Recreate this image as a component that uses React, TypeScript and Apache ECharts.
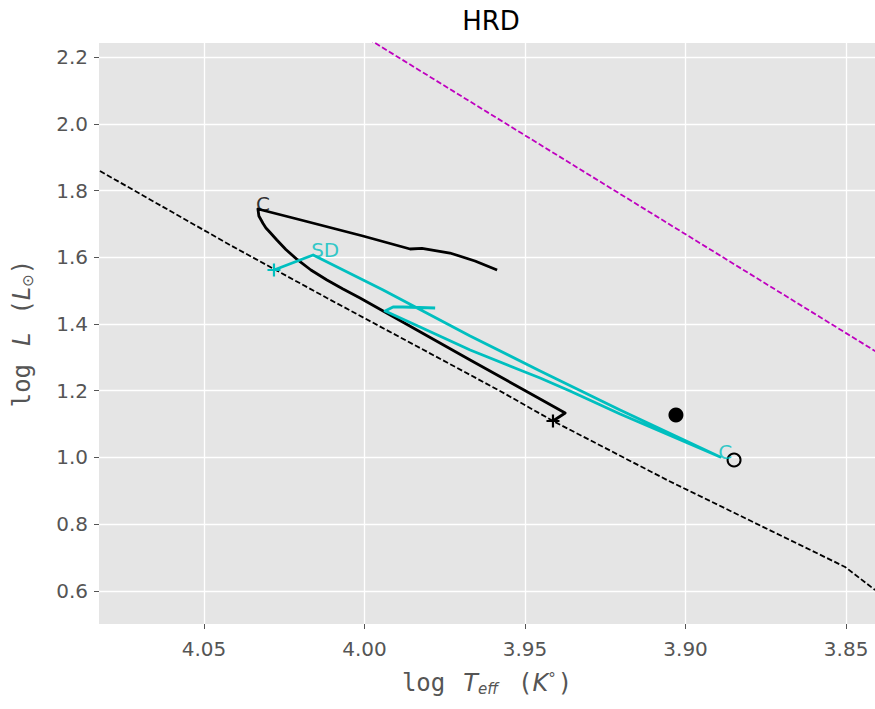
import React, { useEffect, useRef } from "react";
import * as echarts from "echarts";

// axis ticks
const xTicks = [4.05, 4.0, 3.95, 3.9, 3.85];
const yTicks = [0.6, 0.8, 1.0, 1.2, 1.4, 1.6, 1.8, 2.0, 2.2];

// ZAMS (black dashed)
const zamsT = [4.0824, 4.0419, 4.0117, 3.9578, 3.9413, 3.9058, 3.8503, 3.841];
const zamsL = [1.8584, 1.6367, 1.4779, 1.1993, 1.1094, 0.9326, 0.6719, 0.603];

// magenta dashed line
const magT = [4.02, 3.83];
const magL = [2.38, 1.254];

// black track
const blackT = [
  3.9413, 3.9375, 3.9453, 3.9671, 4.0014, 4.0067, 4.0117, 4.0167, 4.021, 4.0245, 4.0273, 4.0294,
  4.0307, 4.0316, 4.0322, 4.0329, 4.0332, 4.021, 4.0005, 3.9858, 3.9821, 3.9734, 3.9656, 3.9587,
];
const blackL = [
  1.1093, 1.1333, 1.1753, 1.2921, 1.4779, 1.5049, 1.5318, 1.5618, 1.5933, 1.6232, 1.6517, 1.6742,
  1.6876, 1.7011, 1.7116, 1.7236, 1.7446, 1.7146, 1.6637, 1.6247, 1.6267, 1.6127, 1.5888, 1.5618,
];

// cyan track
const cyanT = [4.0282, 4.016, 3.9942, 3.9671, 3.9453, 3.9204, 3.8892, 3.9204, 3.936, 3.9453, 3.9516, 3.9671, 3.9827, 3.9936, 3.9911, 3.988, 3.978];
const cyanL = [1.5618, 1.6067, 1.5019, 1.364, 1.2592, 1.1423, 1.0015, 1.1303, 1.1992, 1.2382, 1.2622, 1.3221, 1.391, 1.4389, 1.4509, 1.4509, 1.4479];

// markers
const filledStar = [3.903, 1.1273];
const openStar = [3.8849, 0.9925];
const blackStart = [3.9413, 1.1093];
const cyanStart = [4.0282, 1.5618];

// annotations
const blackLabels = [{ t: 4.0332, l: 1.7446, text: "C" }];
const cyanLabels = [
  { t: 4.016, l: 1.6067, text: "SD" },
  { t: 3.8892, l: 1.0015, text: "C" },
];

const zip = (xs: number[], ys: number[]) => xs.map((x, i) => [x, ys[i]]);

const SANS = "DejaVu Sans";
const MONO = "DejaVu Sans Mono";
const GRAY = "#555555";
const CYAN = "#00bfbf";
const MAGENTA = "#bf00bf";
const PLUS = "path://M5,0L5,10M0,5L10,5";

const NAME_FS = 24;
const SUB_FS = 15;
const GAP = 18;

const nameRich = {
  m: { fontFamily: MONO, fontSize: NAME_FS, color: GRAY },
  mg: { fontFamily: MONO, fontSize: NAME_FS, color: GRAY, padding: [0, GAP, 0, 0] },
  i: { fontFamily: SANS, fontStyle: "italic", fontSize: NAME_FS, color: GRAY },
  ig: { fontFamily: SANS, fontStyle: "italic", fontSize: NAME_FS, color: GRAY, padding: [0, GAP, 0, 0] },
  s: { fontFamily: SANS, fontStyle: "italic", fontSize: SUB_FS, color: GRAY, padding: [11, GAP + 2, 0, 0] },
  o: { fontFamily: SANS, fontSize: SUB_FS, color: GRAY, padding: [11, 0, 0, 0] },
  d: { fontFamily: SANS, fontSize: SUB_FS, color: GRAY, padding: [0, 2, 9, 0] },
};

const labelSeries = (items: { t: number; l: number; text: string }[], color: string) => ({
  type: "scatter",
  symbolSize: 0,
  z: 10,
  data: items.map((d) => ({ value: [d.t, d.l], name: d.text })),
  label: {
    show: true,
    position: [0, 0],
    align: "left",
    verticalAlign: "bottom",
    offset: [-2, 5],
    formatter: (p: any) => p.name,
    fontFamily: SANS,
    fontSize: 20,
    color,
  },
  emphasis: { disabled: true },
});

export default function App() {
  const ref = useRef<HTMLDivElement>(null);
  useEffect(() => {
    const chart = echarts.init(ref.current!, null, { renderer: "svg" });
    const option: any = {
      animation: false,
      title: {
        text: "HRD",
        left: 486,
        top: 3,
        textAlign: "center",
        textStyle: { fontFamily: SANS, fontSize: 26, fontWeight: "normal", color: "#000" },
      },
      grid: {
        left: 99,
        right: 0,
        top: 43,
        bottom: 85,
        show: true,
        backgroundColor: "#E5E5E5",
        borderWidth: 0,
      },
      xAxis: {
        type: "value",
        inverse: true,
        min: 3.841,
        max: 4.0827,
        axisLine: { show: false },
        axisTick: { show: true, length: 5, lineStyle: { color: GRAY, width: 1 }, customValues: xTicks },
        axisLabel: {
          customValues: xTicks,
          formatter: (v: number) => v.toFixed(2),
          fontFamily: SANS,
          fontSize: 20,
          color: GRAY,
          margin: 15,
        },
        splitLine: { show: true, lineStyle: { color: "#ffffff", width: 1.3 } },
        name: "{mg|log}{i|T}{s|eff}{m|(}{i|K}{d|°}{m|)}",
        nameLocation: "middle",
        nameGap: 46,
        nameTextStyle: { rich: nameRich },
      },
      yAxis: {
        type: "value",
        min: 0.501,
        max: 2.242,
        axisLine: { show: false },
        axisTick: { show: true, length: 5, lineStyle: { color: GRAY, width: 1 }, customValues: yTicks },
        axisLabel: {
          customValues: yTicks,
          formatter: (v: number) => v.toFixed(1),
          fontFamily: SANS,
          fontSize: 20,
          color: GRAY,
          margin: 11,
        },
        splitLine: { show: true, lineStyle: { color: "#ffffff", width: 1.3 } },
        name: "{mg|log}{ig|L}{m|(}{i|L}{o|⊙}{m|)}",
        nameLocation: "middle",
        nameRotate: 90,
        nameGap: 64,
        nameTextStyle: { rich: nameRich },
      },
      series: [
        {
          type: "line",
          data: zip(zamsT, zamsL),
          showSymbol: false,
          clip: true,
          lineStyle: { color: "#000", width: 1.8, type: [5.5, 2.5] },
          emphasis: { disabled: true },
        },
        {
          type: "line",
          data: zip(magT, magL),
          showSymbol: false,
          clip: true,
          lineStyle: { color: MAGENTA, width: 1.8, type: [5.5, 2.5] },
          emphasis: { disabled: true },
        },
        {
          type: "line",
          data: zip(blackT, blackL),
          showSymbol: false,
          clip: true,
          lineStyle: { color: "#000", width: 2.8, join: "round" },
          emphasis: { disabled: true },
        },
        {
          type: "line",
          data: zip(cyanT, cyanL),
          showSymbol: false,
          clip: true,
          lineStyle: { color: CYAN, width: 2.8, join: "round" },
          emphasis: { disabled: true },
        },
        {
          type: "scatter",
          data: [filledStar],
          symbol: "circle",
          symbolSize: 15,
          itemStyle: { color: "#000", opacity: 1 },
          z: 5,
          emphasis: { disabled: true },
        },
        {
          type: "scatter",
          data: [openStar],
          symbol: "circle",
          symbolSize: 13,
          itemStyle: { color: "rgba(0,0,0,0)", borderColor: "#000", borderWidth: 2, opacity: 1 },
          z: 5,
          emphasis: { disabled: true },
        },
        {
          type: "scatter",
          data: [blackStart],
          symbol: PLUS,
          symbolSize: 13,
          itemStyle: { color: "rgba(0,0,0,0)", borderColor: "#000", borderWidth: 2.2, opacity: 1 },
          z: 5,
          emphasis: { disabled: true },
        },
        {
          type: "scatter",
          data: [cyanStart],
          symbol: PLUS,
          symbolSize: 13,
          itemStyle: { color: "rgba(0,0,0,0)", borderColor: CYAN, borderWidth: 2.2, opacity: 1 },
          z: 5,
          emphasis: { disabled: true },
        },
        labelSeries(blackLabels, "#000"),
        labelSeries(cyanLabels, CYAN),
      ],
    };
    chart.setOption(option);
    return () => chart.dispose();
  }, []);
  return (
    <div
      ref={ref}
      style={{ position: "absolute", left: 0, top: 0, width: 875, height: 709 }}
    />
  );
}
